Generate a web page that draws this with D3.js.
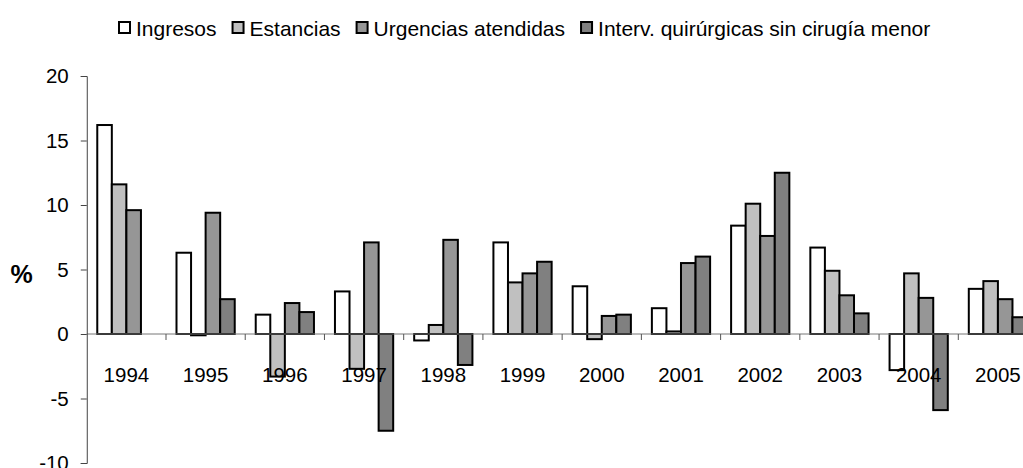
<!DOCTYPE html>
<html>
<head>
<meta charset="utf-8">
<script src="https://cdn.jsdelivr.net/npm/d3@7"></script>
<style>
  html, body { margin: 0; padding: 0; background: #fff; }
  svg { display: block; font-family: "Liberation Sans", Arial, sans-serif; }
</style>
</head>
<body>
<svg id="chart" width="1023" height="468"></svg>
<script>
const years = ["1994","1995","1996","1997","1998","1999","2000","2001","2002","2003","2004","2005"];
const seriesNames = ["Ingresos", "Estancias", "Urgencias atendidas", "Interv. quirúrgicas sin cirugía menor"];
const ingresos  = [16.2, 6.3, 1.5, 3.3, -0.5, 7.1, 3.7, 2.0, 8.4, 6.7, -2.8, 3.5];
const estancias = [11.6, -0.1, -3.3, -2.7, 0.7, 4.0, -0.4, 0.2, 10.1, 4.9, 4.7, 4.1];
const urgencias = [9.6, 9.4, 2.4, 7.1, 7.3, 4.7, 1.4, 5.5, 7.6, 3.0, 2.8, 2.7];
const interv    = [null, 2.7, 1.7, -7.5, -2.4, 5.6, 1.5, 6.0, 12.5, 1.6, -5.9, 1.3];
const yTicks = [-10, -5, 0, 5, 10, 15, 20];
const colors = ["#ffffff", "#c0c0c0", "#969696", "#808080"];

const seriesValues = [ingresos, estancias, urgencias, interv];

const svg = d3.select("#chart");
const band = 79.23;
const x0 = 86.77;
const x = d3.scaleBand().domain(years).range([x0, x0 + band * years.length]).padding(0);
const xs = d3.scaleBand().domain(d3.range(4)).range([10.5, band - 10.5]).padding(0);
const y = d3.scaleLinear().domain([-10, 20]).range([463, 76]);

// bars
const groups = svg.append("g").selectAll("g")
  .data(years).join("g")
  .attr("transform", d => `translate(${x(d)},0)`);

groups.selectAll("rect")
  .data((d, i) => seriesValues.map((s, k) => ({k, v: s[i]})).filter(e => e.v !== null))
  .join("rect")
  .attr("x", d => xs(d.k))
  .attr("width", xs.bandwidth())
  .attr("y", d => y(Math.max(0, d.v)))
  .attr("height", d => Math.abs(y(d.v) - y(0)))
  .attr("fill", d => colors[d.k])
  .attr("stroke", "#000")
  .attr("stroke-width", 2);

// x axis line at 0 with ticks between categories
const xAxisG = svg.append("g").attr("transform", `translate(0,${y(0)})`);
xAxisG.append("line")
  .attr("x1", x0).attr("x2", 1023)
  .attr("stroke", "#777").attr("stroke-width", 1);
xAxisG.selectAll("line.tk")
  .data(years.slice(1)).join("line").attr("class", "tk")
  .attr("x1", d => x(d)).attr("x2", d => x(d))
  .attr("y1", 0).attr("y2", 6)
  .attr("stroke", "#555").attr("stroke-width", 1);
xAxisG.selectAll("text")
  .data(years).join("text")
  .attr("x", d => x(d) + band / 2)
  .attr("y", 48)
  .attr("text-anchor", "middle")
  .attr("font-size", "20.5px")
  .attr("fill", "#000")
  .text(d => d);

// y axis
const yAxis = d3.axisLeft(y).tickValues(yTicks).tickSize(6).tickPadding(12).tickFormat(d => String(d));
const yAxisG = svg.append("g").attr("transform", `translate(${x0},0)`).call(yAxis);
yAxisG.select(".domain").attr("stroke", "#444");
yAxisG.selectAll(".tick line").attr("stroke", "#444");
yAxisG.selectAll(".tick text")
  .attr("font-size", "20.5px")
  .attr("font-family", "Liberation Sans, Arial, sans-serif")
  .attr("fill", "#000");

// y label
svg.append("text")
  .attr("x", 21.5).attr("y", 283)
  .attr("text-anchor", "middle")
  .attr("font-size", "25px")
  .attr("font-weight", "bold")
  .text("%");

// legend
const legend = svg.append("g");
let lx = 118;
seriesNames.forEach((name, k) => {
  legend.append("rect")
    .attr("x", lx + 1).attr("y", 22)
    .attr("width", 11).attr("height", 11)
    .attr("fill", colors[k]).attr("stroke", "#000").attr("stroke-width", 2);
  const t = legend.append("text")
    .attr("x", lx + 18).attr("y", 36)
    .attr("font-size", "21px")
    .attr("fill", "#000")
    .text(name);
  lx = lx + 18 + t.node().getComputedTextLength() + 15;
});
</script>
</body>
</html>
